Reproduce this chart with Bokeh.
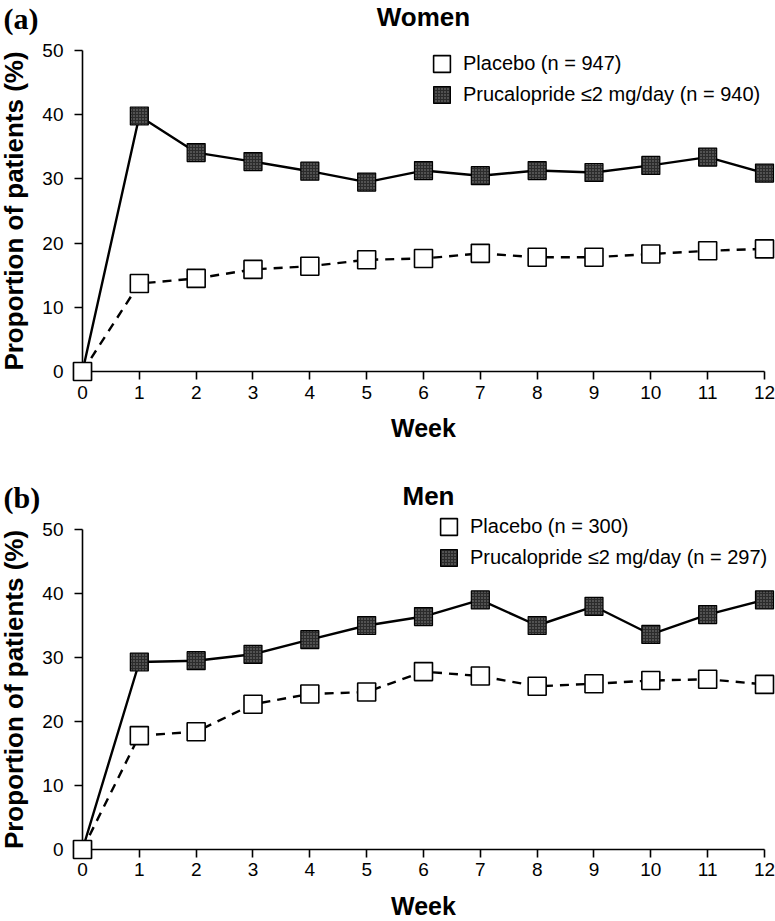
from bokeh.plotting import figure
from bokeh.models import Range1d, Legend, LegendItem, Label, FixedTicker
from bokeh.layouts import column
from bokeh.embed import file_html
from bokeh.resources import INLINE

weeks = [0, 1, 2, 3, 4, 5, 6, 7, 8, 9, 10, 11, 12]
y_ticks = [0, 10, 20, 30, 40, 50]

women_placebo = [0, 13.7, 14.5, 15.9, 16.4, 17.4, 17.6, 18.4, 17.8, 17.8, 18.3, 18.8, 19.1]
women_pruc = [0, 39.8, 34.1, 32.7, 31.2, 29.5, 31.3, 30.5, 31.3, 31.0, 32.1, 33.4, 30.9]
men_placebo = [0, 17.8, 18.4, 22.7, 24.3, 24.6, 27.8, 27.1, 25.5, 25.9, 26.4, 26.6, 25.8]
men_pruc = [0, 29.3, 29.5, 30.5, 32.8, 35.0, 36.4, 39.0, 35.0, 38.0, 33.6, 36.7, 39.0]

SANS = "Liberation Sans"
DARK = "#2b2b2b"
NAN = float("nan")


def make_panel(tag, title, placebo, pruc, n_pl, n_pr, height, y_rng, title_x, title_y, leg_xy):
    p = figure(width=775, height=height, output_backend="svg", toolbar_location=None,
               x_range=Range1d(-1.4428, 12.1936), y_range=Range1d(*y_rng),
               min_border=0)
    p.outline_line_color = None
    p.grid.visible = False

    for ax in (p.xaxis[0], p.yaxis[0]):
        ax.fixed_location = 0
        ax.axis_line_width = 1.6
        ax.major_tick_line_width = 1.6
        ax.major_tick_in = 0
        ax.major_tick_out = 8
        ax.minor_tick_out = 0
        ax.minor_tick_in = 0
        ax.major_label_text_font = SANS
        ax.major_label_text_font_size = "19px"
        ax.major_label_text_color = "black"
        ax.axis_label_text_font = SANS
        ax.axis_label_text_font_style = "bold"
        ax.axis_label_text_color = "black"

    p.xaxis.bounds = (0, 12)
    p.xaxis.ticker = FixedTicker(ticks=weeks)
    p.xaxis.axis_label = "Week"
    p.xaxis.axis_label_text_font_size = "25px"
    p.xaxis.major_label_standoff = 6
    p.xaxis.axis_label_standoff = 12

    p.yaxis.bounds = (0, 50)
    p.yaxis.ticker = FixedTicker(ticks=y_ticks)
    p.yaxis.axis_label = "Proportion of patients (%)"
    p.yaxis.axis_label_text_font_size = "26px"
    p.yaxis.major_label_standoff = 11
    p.yaxis.axis_label_standoff = 10

    p.line(weeks, pruc, line_color="black", line_width=2.4)
    p.scatter(weeks, pruc, marker="square", size=18, fill_color=DARK,
              hatch_pattern="dot", hatch_color="#8a8a8a", hatch_scale=3, hatch_weight=1,
              line_color="black", line_width=1.2, level="annotation")
    p.line(weeks, placebo, line_color="black", line_width=2.4, line_dash="9 7")
    p.scatter(weeks, placebo, marker="square", size=18, fill_color="white",
              line_color="black", line_width=1.6, level="annotation")

    # legend swatches: a single undefined point each, only their styles show in the legend
    r_pl = p.rect(x=[NAN], y=[NAN], width=1, height=1, fill_color="white",
                  line_color="black", line_width=1.6)
    r_pr = p.rect(x=[NAN], y=[NAN], width=1, height=1, fill_color=DARK,
                  hatch_pattern="dot", hatch_color="#8a8a8a", hatch_scale=3, hatch_weight=1,
                  line_color="black", line_width=1.2)
    legend = Legend(items=[
        LegendItem(label=f"Placebo (n = {n_pl})", renderers=[r_pl]),
        LegendItem(label=f"Prucalopride \u22642 mg/day (n = {n_pr})", renderers=[r_pr]),
    ], location=leg_xy, glyph_width=21, glyph_height=21, label_height=23,
        label_standoff=11, spacing=8, padding=0, margin=0,
        label_text_font=SANS, label_text_font_size="20px", label_text_color="black",
        border_line_color=None, background_fill_alpha=0)
    p.add_layout(legend, "center")

    p.add_layout(Label(x=3, y=height - 1, x_units="screen", y_units="screen", text=tag,
                       text_font="Liberation Serif", text_font_style="bold",
                       text_font_size="30px", text_color="black",
                       text_baseline="top", text_align="left"))
    p.add_layout(Label(x=title_x, y=title_y, x_units="screen", y_units="screen", text=title,
                       text_font=SANS, text_font_style="bold", text_font_size="26px",
                       text_color="black", text_baseline="top", text_align="center"))
    return p


H1, H2 = 479, 441
top = make_panel("(a)", "Women", women_placebo, women_pruc, 947, 940, H1,
                 (-16.822, 57.788), 423, H1 - 1, (431, 373))
bottom = make_panel("(b)", "Men", men_placebo, men_pruc, 300, 297, H2,
                    (-11.094, 57.8125), 428, H2 - 1, (438, 351.5))

layout = column(top, bottom)
open("out.html", "w").write(file_html(layout, INLINE))
